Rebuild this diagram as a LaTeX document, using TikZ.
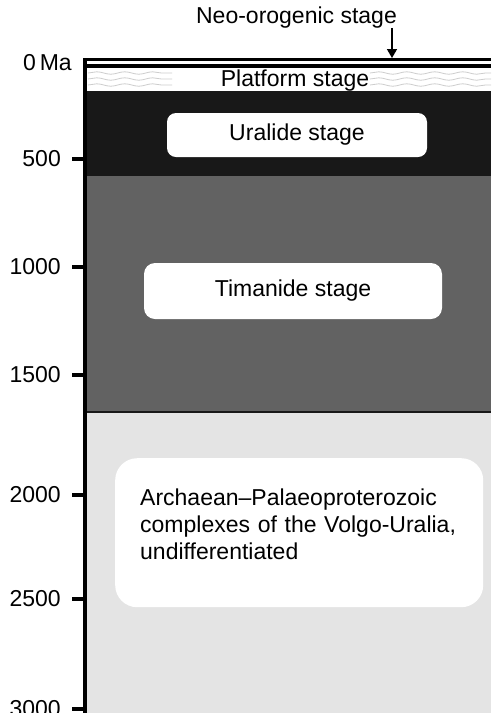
\documentclass[tikz,border=0pt]{standalone}
\usepackage{fontspec}
\setmainfont{Liberation Sans}
\usetikzlibrary{arrows.meta, decorations.pathmorphing}
\definecolor{uralideblack}{RGB}{24,24,24}
\definecolor{timanidegray}{RGB}{98,98,98}
\definecolor{basementgray}{RGB}{228,228,228}
\definecolor{wavegray}{RGB}{205,205,205}
\newcommand{\stagefont}{\fontsize{23}{27}\selectfont}

\begin{document}
\begin{tikzpicture}[
    x=1pt, y=-1pt,
    stagebox/.style={rectangle, rounded corners=9pt, fill=white, align=center, font=\stagefont, inner sep=0pt},
    ticklabel/.style={anchor=east, font=\stagefont, inner sep=0pt},
    wave/.style={draw=wavegray, line width=0.8pt, decorate, decoration={snake, segment length=28pt, amplitude=1.2pt}},
    arrow/.style={-{Triangle[length=9pt, width=10pt]}, line width=1.5pt}
]
\useasboundingbox (0,0) rectangle (491,713);

% Stage bands
\fill[black] (85,58) rectangle (491,68);
\fill[white] (87,61) rectangle (491,64);
\fill[white] (87,68) rectangle (491,91);
\fill[uralideblack] (87,91) rectangle (491,176);
\fill[timanidegray] (87,176) rectangle (491,410.5);
\fill[uralideblack] (87,410.5) rectangle (491,413);
\fill[basementgray] (87,413) rectangle (491,713);

% Platform waves
\foreach \y in {73,79,85} {
    \draw[wave] (88,\y) -- (172,\y);
    \draw[wave] (370,\y) -- (491,\y);
}

% Time axis
\draw[line width=4pt] (85,58) -- (85,713);
\node[ticklabel] (zero) at (72,62.5) {0\,Ma};
\foreach \t/\y in {500/159, 1000/267, 1500/375, 2000/495, 2500/599, 3000/709} {
    \draw[line width=3.5pt] (72,\y) -- (85,\y);
    \node[ticklabel] (tick\t) at (61,\y) {\t};
}

% Stages
\node[font=\stagefont, inner sep=0pt, anchor=base] (platform) at (295,86) {Platform stage};
\node[stagebox, minimum width=260pt, minimum height=44pt] (uralide) at (297,135) {Uralide stage};
\node[stagebox, minimum width=298pt, minimum height=56pt, rounded corners=11pt] (timanide) at (293,291) {Timanide stage};
\node[stagebox, anchor=north west, align=left, text width=318pt, inner xsep=25pt, text height=47pt, text depth=102pt, rounded corners=22pt] (archaean) at (115,458) {Archaean--Palaeoproterozoic\\complexes of the Volgo-Uralia,\\undifferentiated};

% Neo-orogenic label
\node[font=\stagefont, inner sep=0pt, anchor=base] (neo) at (296.5,23) {Neo-orogenic stage};
\coordinate (neotip) at (392,58);
\draw[arrow] (neotip |- neo.south) -- (neotip);
\end{tikzpicture}
\end{document}
